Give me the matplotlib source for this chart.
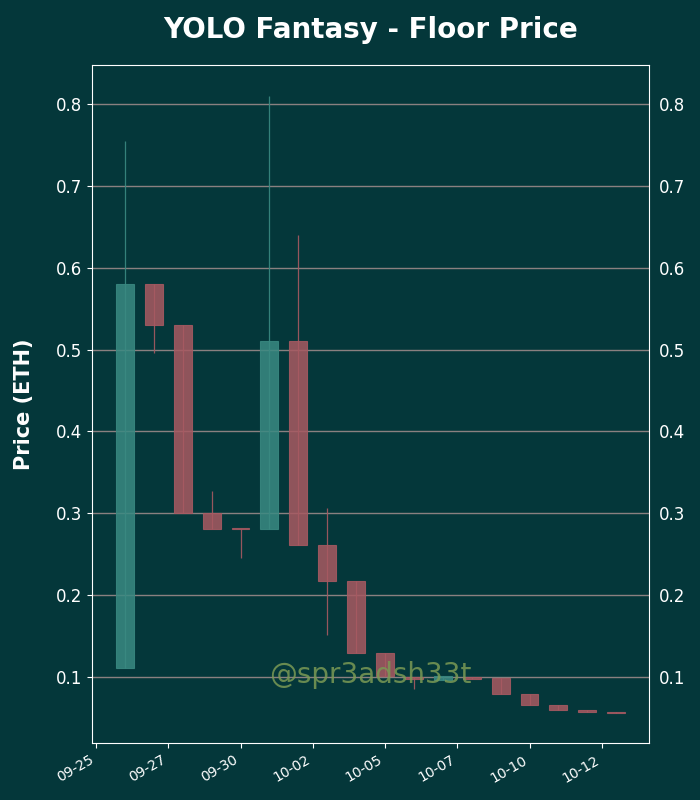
import datetime as dt
import matplotlib
matplotlib.use("Agg")
import matplotlib.pyplot as plt
import matplotlib.dates as mdates

bg = "#04373a"
up_color = "#3a8a82"
down_color = "#a85a62"

# daily floor price candles
dates = [dt.datetime(2022, 9, 26) + dt.timedelta(days=i) for i in range(18)]
opens = [0.111, 0.580, 0.530, 0.300, 0.281, 0.281, 0.510, 0.261, 0.218, 0.130,
         0.100, 0.097, 0.100, 0.099, 0.080, 0.066, 0.060, 0.057]
closes = [0.580, 0.530, 0.300, 0.281, 0.281, 0.510, 0.261, 0.218, 0.130, 0.101,
          0.098, 0.101, 0.098, 0.080, 0.066, 0.060, 0.058, 0.056]
highs = [0.754, 0.580, 0.530, 0.327, 0.281, 0.810, 0.640, 0.306, 0.218, 0.130,
         0.100, 0.101, 0.100, 0.099, 0.080, 0.066, 0.060, 0.057]
lows = [0.111, 0.496, 0.300, 0.281, 0.245, 0.281, 0.261, 0.151, 0.130, 0.101,
        0.085, 0.097, 0.098, 0.080, 0.066, 0.060, 0.058, 0.056]

tick_dates = [dt.datetime(2022, 9, 25) + dt.timedelta(hours=60 * i) for i in range(8)]

fig = plt.figure(figsize=(7, 8), dpi=100, facecolor=bg)
ax = fig.add_axes([0.1314, 0.071, 0.7956, 0.848], facecolor=bg)

for d, o, c, h, l in zip(dates, opens, closes, highs, lows):
    x = mdates.date2num(d)
    col = up_color if c > o else down_color
    ax.vlines(x, l, h, color=col, lw=0.9, zorder=3, alpha=0.9)
    bottom = min(o, c)
    height = max(abs(c - o), 0.0015)
    ax.bar(x, height, bottom=bottom, width=0.62, color=col, alpha=0.85,
           edgecolor=col, linewidth=0.8, zorder=2)

ax.grid(axis="y", color="#8a8080", lw=1.0, zorder=1)
ax.set_axisbelow(True)

ax.set_xlim(mdates.date2num(dt.datetime(2022, 9, 25)) - 0.14,
            mdates.date2num(dt.datetime(2022, 9, 25)) + 19.13)
ax.set_ylim(0.0194, 0.8476)
ax.set_yticks([0.1, 0.2, 0.3, 0.4, 0.5, 0.6, 0.7, 0.8])
ax.set_xticks(mdates.date2num(tick_dates))
ax.xaxis.set_major_formatter(mdates.DateFormatter("%m-%d"))

for s in ax.spines.values():
    s.set_color("white")

ax.tick_params(axis="y", colors="white", labelsize=12, labelright=True, right=False)
ax.tick_params(axis="x", colors="white", labelsize=10)
plt.setp(ax.get_xticklabels(), rotation=30, ha="right")

ax.set_ylabel("Price (ETH)", color="white", fontsize=15, fontweight="bold", labelpad=16)
fig.suptitle("YOLO Fantasy - Floor Price", color="white", fontsize=20,
             fontweight="bold", x=0.529, y=0.98)

ax.text(0.5, 0.1, "@spr3adsh33t", transform=ax.transAxes, fontsize=20,
        color="#7a9a55", alpha=0.85, ha="center", va="center", zorder=5)

fig.savefig("out.png", facecolor=bg)
